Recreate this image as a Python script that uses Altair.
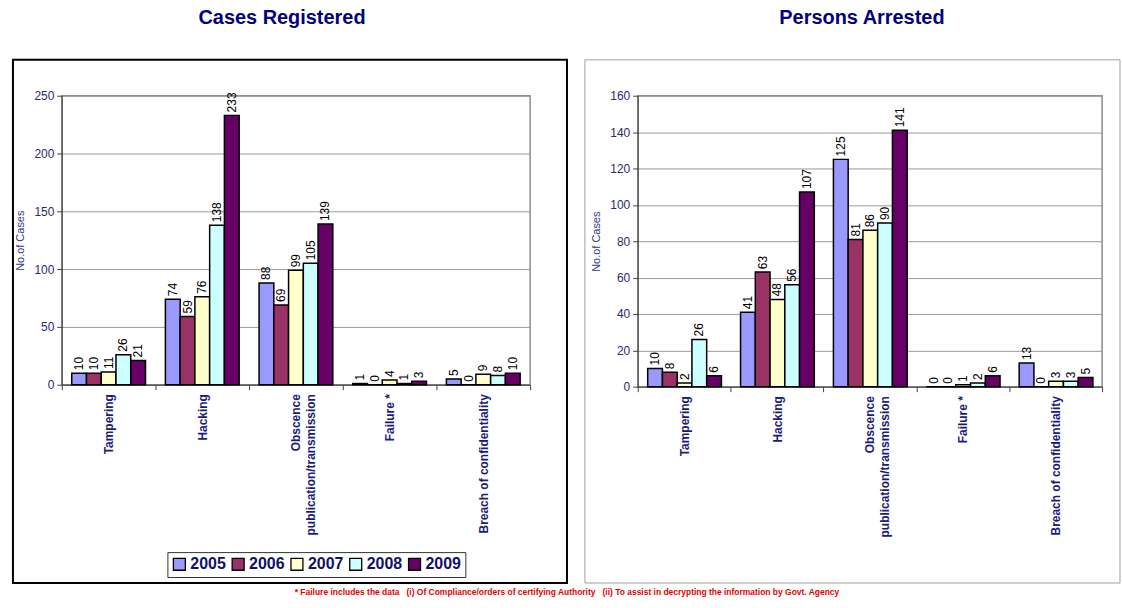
import altair as alt
import pandas as pd

categories = ["Tampering", "Hacking", "Obscence|publication/transmission", "Failure *", "Breach of confidentiality"]
years = ["2005", "2006", "2007", "2008", "2009"]
colors = ["#9999FF", "#993366", "#FFFFCC", "#CCFFFF", "#660066"]

# Cases Registered
cases_2005 = [10, 74, 88, 1, 5]
cases_2006 = [10, 59, 69, 0, 0]
cases_2007 = [11, 76, 99, 4, 9]
cases_2008 = [26, 138, 105, 1, 8]
cases_2009 = [21, 233, 139, 3, 10]

# Persons Arrested
arrest_2005 = [10, 41, 125, 0, 13]
arrest_2006 = [8, 63, 81, 0, 0]
arrest_2007 = [2, 48, 86, 1, 3]
arrest_2008 = [26, 56, 90, 2, 3]
arrest_2009 = [6, 107, 141, 6, 5]

footnote = ("* Failure includes the data \u00a0 (i) Of Compliance/orders of certifying Authority \u00a0 "
            "(ii) To assist in decrypting the information by Govt. Agency")

NAVY = "#1B1B78"
FONT = "Liberation Sans"


def long_df(series):
    rows = []
    for yr, vals in zip(years, series):
        for c, v in zip(categories, vals):
            rows.append({"category": c, "year": yr, "value": v})
    return pd.DataFrame(rows)


def one():
    return alt.Chart(pd.DataFrame({"d": [0]}))


def panel(df, ymax, step, w, h, title, tx, ty, box, box_stroke, box_width, bounds, legx, legy, legstroke):
    base = alt.Chart(df)
    x = alt.X("category:N", sort=categories, title=None,
              scale=alt.Scale(paddingInner=0, paddingOuter=0),
              axis=alt.Axis(labelAngle=270, labelAlign="right", labelBaseline="middle",
                            labelFont=FONT, labelFontSize=12, labelFontWeight="bold",
                            labelColor=NAVY, labelExpr="split(datum.label, '|')",
                            tickBand="extent", domainColor="#404040", tickColor="#404040",
                            tickSize=5, labelPadding=4, labelLimit=0, grid=False,
                            labelLineHeight=15))
    xo = alt.XOffset("year:N", sort=years,
                     scale=alt.Scale(paddingInner=0, paddingOuter=0.675))
    y = alt.Y("value:Q", scale=alt.Scale(domain=[0, ymax], nice=False), title="No.of Cases",
              axis=alt.Axis(values=list(range(0, ymax + 1, step)), labelFont=FONT,
                            labelFontSize=12, labelColor="#2B2B6B", titleFont=FONT,
                            titleFontSize=11, titleFontWeight="normal", titleColor="#33338A",
                            gridColor="#9A9A9A", gridWidth=1, domainColor="#404040",
                            tickColor="#404040", tickSize=5, labelPadding=3, titlePadding=8,
                            labelOverlap=False))
    color = alt.Color("year:N", sort=years, scale=alt.Scale(domain=years, range=colors),
                      legend=alt.Legend(orient="none", legendX=legx, legendY=legy,
                                        direction="horizontal", title=None,
                                        symbolType="square", symbolSize=144,
                                        symbolStrokeColor="black", symbolStrokeWidth=1.3,
                                        symbolOpacity=1,
                                        labelFontSize=16, labelFontWeight="bold",
                                        labelColor="#10106A", labelFont=FONT,
                                        padding=4, strokeColor=legstroke, fillColor="white",
                                        columnPadding=3, labelOffset=3))
    bars = base.mark_bar(stroke="black", strokeWidth=1.5, opacity=1).encode(
        x=x, xOffset=xo, y=y, color=color)
    labels = base.mark_text(angle=270, align="left", baseline="middle", dx=3,
                            fontSize=12, font=FONT, color="black").encode(
        x=x, xOffset=xo, y=y, text="value:Q")
    bounds_rect = one().mark_rect(fillOpacity=0, strokeOpacity=0, fill="white").encode(
        x=alt.value(bounds[0]), x2=alt.value(bounds[1]),
        y=alt.value(bounds[2]), y2=alt.value(bounds[3]))
    box_rect = one().mark_rect(fillOpacity=0, fill="white", stroke=box_stroke,
                               strokeWidth=box_width).encode(
        x=alt.value(box[0]), x2=alt.value(box[1]),
        y=alt.value(box[2]), y2=alt.value(box[3]))
    title_text = one().mark_text(text=title, fontSize=20, fontWeight="bold", font=FONT,
                                 color="#000080", align="center", baseline="middle").encode(
        x=alt.value(tx), y=alt.value(ty))
    return alt.layer(bounds_rect, box_rect, bars, labels, title_text).properties(
        width=w, height=h)


left = panel(long_df([cases_2005, cases_2006, cases_2007, cases_2008, cases_2009]),
             250, 50, 470, 290, "Cases Registered", 221, -78,
             box=(-49, 507, -36, 489), box_stroke="black", box_width=2,
             bounds=(-61, 510, -94, 490), legx=106, legy=458, legstroke="#333333")

right = panel(long_df([arrest_2005, arrest_2006, arrest_2007, arrest_2008, arrest_2009]),
              160, 20, 466, 292, "Persons Arrested", 225, -78,
              box=(-53, 484, -36, 489), box_stroke="#A0A0A0", box_width=1,
              bounds=(-54, 485, -94, 490), legx=94, legy=454, legstroke="#888888")

chart = alt.hconcat(left, right, spacing=12).properties(
    padding=0,
    background="white",
    title=alt.TitleParams(footnote, orient="bottom", anchor="middle", fontSize=8.5,
                          fontWeight="bold", color="#E00000", font=FONT, offset=3, dx=6),
).configure_view(stroke="#8C8C8C", strokeWidth=1.5)

chart.save("out.html", embed_options={"renderer": "svg", "actions": False})
